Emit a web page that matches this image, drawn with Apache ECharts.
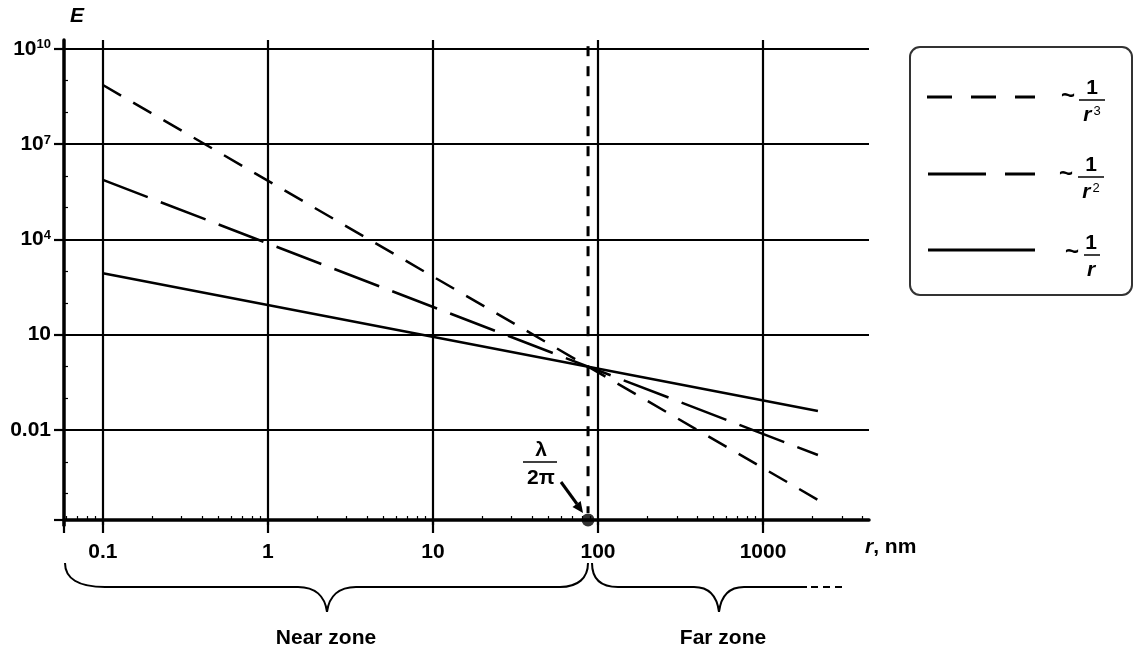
<!DOCTYPE html>
<html><head><meta charset="utf-8">
<script src="https://cdn.jsdelivr.net/npm/echarts@6/dist/echarts.min.js"></script>
<style>html,body{margin:0;padding:0;background:#fff}#c{width:1134px;height:650px}</style>
</head><body><div id="c"></div>
<script>
// ---- axis ranges & ticks ----
const xMin = 0.0581, xMax = 4385;
const yMin = 1e-5, yMax = 1.88e10;
const xTickValues = [0.1, 1, 10, 100, 1000];
const xTickLabels = ['0.1', '1', '10', '100', '1000'];
const xMinorTicks = [0.06, 0.07, 0.08, 0.09, 0.2, 0.3, 0.4, 0.5, 0.6, 0.7, 0.8, 0.9,
  2, 3, 4, 5, 6, 7, 8, 9, 20, 30, 40, 50, 60, 70, 80, 90,
  200, 300, 400, 500, 600, 700, 800, 900, 2000, 3000, 4000];
const yTickValues = [0.01, 10, 1e4, 1e7, 1e10];
const yTickLabels = ['0.01', '10', '10^4', '10^7', '10^10'];
const yMinorTicks = [1e-4, 1e-3, 0.1, 1, 100, 1000, 1e5, 1e6, 1e8, 1e9];
const xAxisBaseValue = 1.48e-5;   // E value where the r axis line sits

// ---- series (end points of each straight log-log line) ----
const rPoints = [0.1, 2150];
const invR3 = [7.2e8, 6.3e-5];
const invR2 = [7.4e5, 1.63e-3];
const invR1 = [855, 0.0396];
const lambdaOver2Pi = 87;
const boundaryE = [1.2e10, 2.44e-5];
const dotE = [1.48e-5];

const F = "'Liberation Sans', Arial, Helvetica, sans-serif";
const FS = 21;
const chart = echarts.init(document.getElementById('c'), null, {renderer: 'canvas'});

function pairs(xs, ys) { return xs.map((x, i) => [x, ys[i]]); }
function txt(x, y, text, extra) {
  return {type: 'text', x: x, y: y, z: 100, style: Object.assign({
    text: text, fontFamily: F, fontSize: FS, fontWeight: 'bold', fill: '#000',
    align: 'center', verticalAlign: 'middle', textAlign: 'center', textVerticalAlign: 'middle'
  }, extra || {})};
}
function seg(x1, y1, x2, y2, w, dash) {
  return {type: 'line', z: 100, shape: {x1: x1, y1: y1, x2: x2, y2: y2},
    style: {stroke: '#000', lineWidth: w, lineDash: dash || null, fill: null}};
}
function bez(x1, y1, c1x, c1y, c2x, c2y, x2, y2) {
  return {type: 'bezierCurve', z: 100,
    shape: {x1: x1, y1: y1, cpx1: c1x, cpy1: c1y, cpx2: c2x, cpy2: c2y, x2: x2, y2: y2},
    style: {stroke: '#000', lineWidth: 2, fill: null}};
}
const denRich = {
  r: {fontFamily: F, fontSize: FS, fontWeight: 'bold', fontStyle: 'italic', fill: '#000', color: '#000'},
  s: {fontFamily: F, fontSize: 13, fill: '#000', color: '#000', verticalAlign: 'top', padding: [0, 0, 0, 2]}
};
function fraction(cx, barY, barL, barR, den) {
  return [
    txt(cx, barY - 12, '1'),
    seg(barL, barY, barR, barY, 1.5),
    txt(cx, barY + 15, den, {rich: denRich})
  ];
}

const graphics = [
  // legend box
  {type: 'rect', z: 100, shape: {x: 910, y: 47, width: 222, height: 248, r: 10},
    style: {fill: '#fff', stroke: '#333', lineWidth: 2}},
  seg(927, 97, 1035, 97, 3, [25, 19]),
  seg(928, 174, 1035, 174, 3, [58, 19]),
  seg(928, 250, 1035, 250, 3),
  txt(1068, 96, '~', {fontSize: 24}), txt(1066, 174, '~', {fontSize: 24}), txt(1072, 252, '~', {fontSize: 24}),
  ...fraction(1092, 100, 1079, 1105, '{r|r}{s|3}'),
  ...fraction(1091, 177, 1078, 1104, '{r|r}{s|2}'),
  ...fraction(1091, 255, 1084, 1100, '{r|r}'),
  // lambda / 2pi annotation
  txt(541, 450, 'λ'),
  seg(523, 462, 557, 462, 1.5),
  txt(541, 478, '2π'),
  seg(561, 482, 577, 504, 3),
  {type: 'polygon', z: 100, shape: {points: [[572.5, 506.9], [580.7, 501.1], [583, 513]]}, style: {fill: '#000'}},
  // near-zone brace
  bez(65, 563, 65, 578, 78, 587, 105, 587),
  seg(105, 587, 298, 587, 2),
  bez(298, 587, 315, 587, 325, 596, 327, 612),
  bez(327, 612, 329, 596, 339, 587, 356, 587),
  seg(356, 587, 560, 587, 2),
  bez(560, 587, 578, 587, 588, 578, 588, 563),
  // far-zone brace
  bez(592, 563, 592, 578, 600, 587, 618, 587),
  seg(618, 587, 694, 587, 2),
  bez(694, 587, 709, 587, 717, 596, 719, 612),
  bez(719, 612, 721, 596, 729, 587, 744, 587),
  seg(744, 587, 807, 587, 2),
  seg(811, 587, 843, 587, 2, [7, 5]),
  txt(326, 638, 'Near zone'),
  txt(723, 638, 'Far zone')
];

function yLabel(v) {
  const i = yTickValues.findIndex(t => Math.abs(Math.log10(t) - Math.log10(v)) < 0.01);
  if (i < 0) return '';
  const p = yTickLabels[i].split('^');
  return p.length > 1 ? '{b|' + p[0] + '}{s|' + p[1] + '}' : '{b|' + p[0] + '}';
}
function xLabel(v) {
  const i = xTickValues.findIndex(t => Math.abs(Math.log10(t) - Math.log10(v)) < 0.01);
  return i < 0 ? '' : xTickLabels[i];
}

const gridLine = {show: true, showMinLine: false, showMaxLine: true, lineStyle: {color: '#000', width: 2.2}};
const axisOffset = -5.3;

chart.setOption({
  animation: false,
  backgroundColor: '#fff',
  grid: {left: 64, right: 265, top: 40, bottom: 124.7, containLabel: false},
  xAxis: [{
    type: 'log', logBase: 10, min: xMin, max: xMax, position: 'bottom', offset: axisOffset,
    axisLine: {show: true, lineStyle: {color: '#000', width: 3.5}},
    axisTick: {show: true, length: 13, lineStyle: {color: '#000', width: 2.2}, customValues: [xMin].concat(xTickValues)},
    axisLabel: {show: true, customValues: xTickValues, formatter: xLabel, margin: 22,
      color: '#000', fontFamily: F, fontSize: FS, fontWeight: 'bold'},
    splitLine: gridLine,
    minorTick: {show: false}, minorSplitLine: {show: false},
    name: '{i|r}{n|, nm}', nameLocation: 'end', nameGap: -4,
    nameTextStyle: {align: 'left', verticalAlign: 'top', padding: [17, 0, 0, 0],
      rich: {i: {fontFamily: F, fontSize: FS, fontWeight: 'bold', fontStyle: 'italic', color: '#000'},
             n: {fontFamily: F, fontSize: FS, fontWeight: 'bold', color: '#000'}}}
  }, {
    type: 'log', logBase: 10, min: xMin, max: xMax, position: 'bottom', offset: axisOffset, gridIndex: 0,
    axisLine: {show: false},
    axisTick: {show: true, inside: true, length: 4, lineStyle: {color: '#000', width: 1.2}, customValues: xMinorTicks},
    axisLabel: {show: false}, splitLine: {show: false}
  }],
  yAxis: [{
    type: 'log', logBase: 10, min: yMin, max: yMax, interval: 3, position: 'left',
    axisLine: {show: true, lineStyle: {color: '#000', width: 3.5}},
    axisTick: {show: true, length: 10, lineStyle: {color: '#000', width: 2.2}, customValues: [xAxisBaseValue].concat(yTickValues)},
    axisLabel: {show: true, customValues: yTickValues, formatter: yLabel, margin: 13,
      rich: {b: {fontFamily: F, fontSize: FS, fontWeight: 'bold', color: '#000'},
             s: {fontFamily: F, fontSize: 13, fontWeight: 'bold', color: '#000', verticalAlign: 'top'}}},
    splitLine: gridLine,
    name: 'E', nameLocation: 'end', nameGap: 13,
    nameTextStyle: {align: 'left', verticalAlign: 'bottom', padding: [0, 0, 0, 6],
      fontFamily: F, fontSize: FS, fontWeight: 'bold', fontStyle: 'italic', color: '#000'}
  }, {
    type: 'log', logBase: 10, min: yMin, max: yMax, interval: 3, position: 'left', gridIndex: 0,
    axisLine: {show: false},
    axisTick: {show: true, inside: true, length: 4, lineStyle: {color: '#000', width: 1.2}, customValues: yMinorTicks},
    axisLabel: {show: false}, splitLine: {show: false}
  }],
  series: [
    {name: '~1/r³', type: 'line', xAxisIndex: 0, yAxisIndex: 0, data: pairs(rPoints, invR3), symbol: 'none',
      lineStyle: {color: '#000', width: 2.5, type: [21, 14]}},
    {name: '~1/r²', type: 'line', xAxisIndex: 0, yAxisIndex: 0, data: pairs(rPoints, invR2), symbol: 'none',
      lineStyle: {color: '#000', width: 2.5, type: [48, 14]}},
    {name: '~1/r', type: 'line', xAxisIndex: 0, yAxisIndex: 0, data: pairs(rPoints, invR1), symbol: 'none',
      lineStyle: {color: '#000', width: 2.5, type: 'solid'}},
    {name: 'λ/2π', type: 'line', xAxisIndex: 0, yAxisIndex: 0,
      data: boundaryE.map(e => [lambdaOver2Pi, e]), symbol: 'none',
      lineStyle: {color: '#000', width: 3, type: [10, 10]}},
    {name: 'dot', type: 'scatter', xAxisIndex: 0, yAxisIndex: 0,
      data: dotE.map(e => [lambdaOver2Pi, e]), symbol: 'circle', symbolSize: 13,
      itemStyle: {color: '#000'}, z: 10}
  ],
  graphic: graphics
});
</script>
</body></html>
